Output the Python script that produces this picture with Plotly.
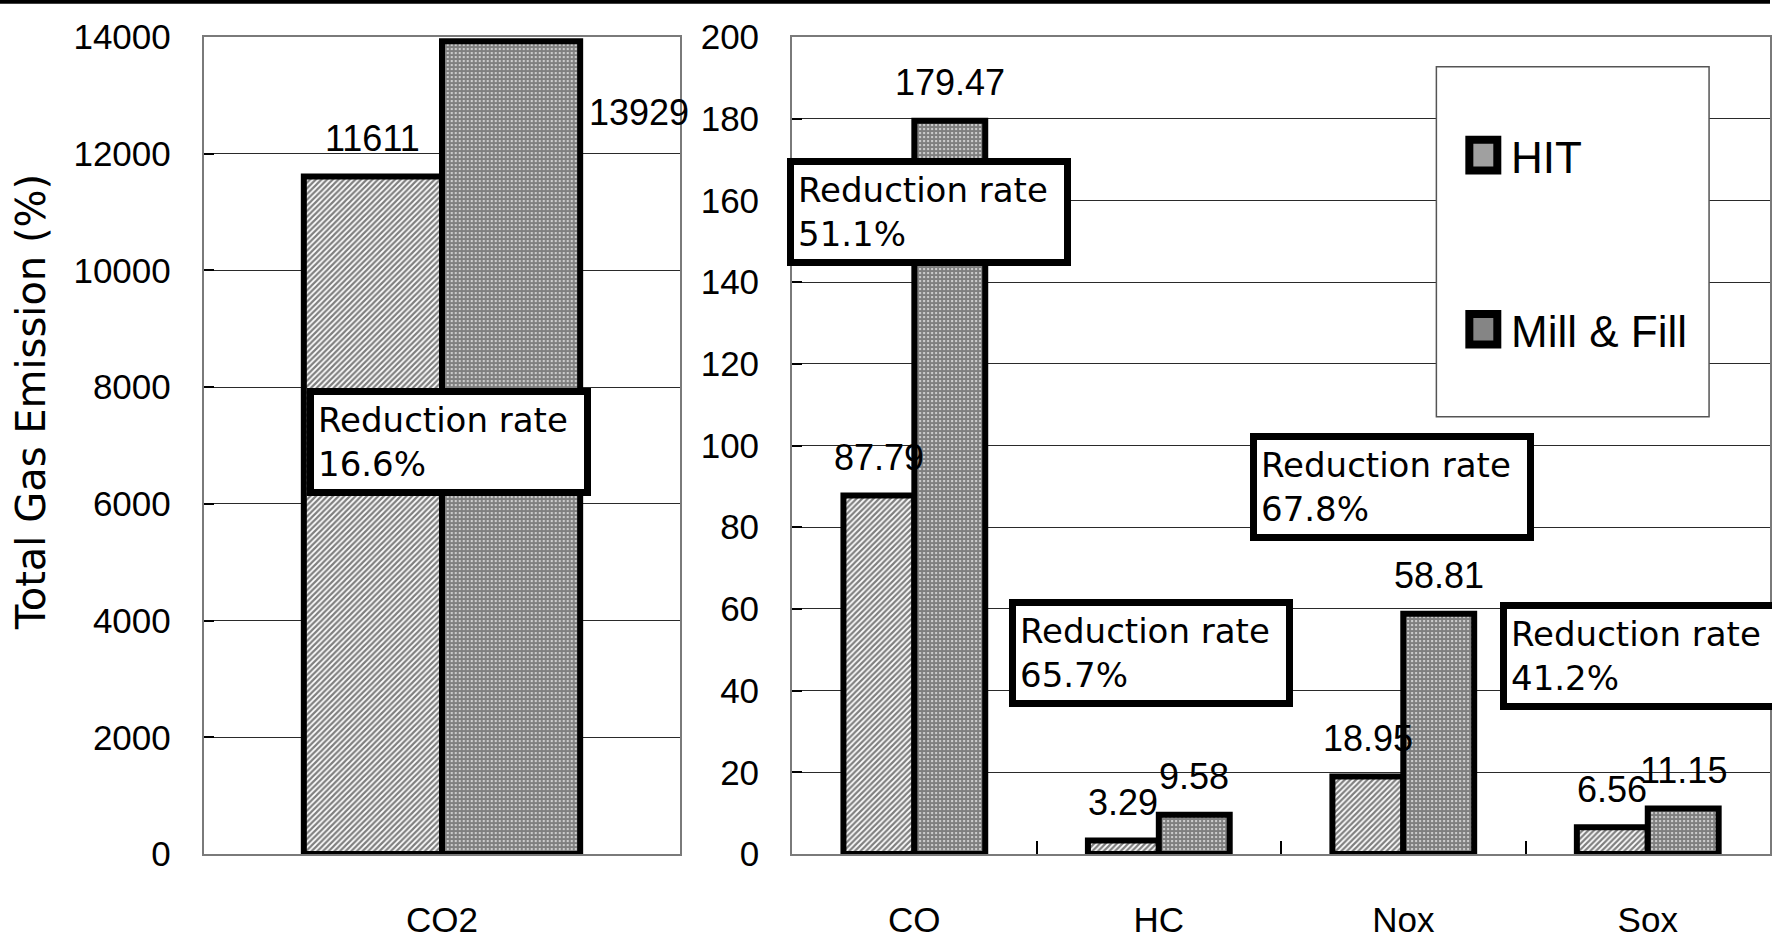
import plotly.graph_objects as go

# ---- data -------------------------------------------------------------
series_names = ["HIT", "Mill & Fill"]
co2_category = ["CO2"]
gas_categories = ["CO", "HC", "Nox", "Sox"]
hit_co2 = [11611]
mill_co2 = [13929]
hit_gas = [87.79, 3.29, 18.95, 6.56]
mill_gas = [179.47, 9.58, 58.81, 11.15]
co2_ticks = [0, 2000, 4000, 6000, 8000, 10000, 12000, 14000]
gas_ticks = [0, 20, 40, 60, 80, 100, 120, 140, 160, 180, 200]
y_title = "Total Gas Emission (%)"

# ---- page geometry ----------------------------------------------------
W, H = 1772, 939
M_TOP, M_BOT = 37, 76
PLOT_H = H - M_TOP - M_BOT


def px_x(x):
    return x / W


def px_y(y):
    return (H - M_BOT - y) / PLOT_H


TICK_FONT = dict(family="Liberation Sans, Arial, sans-serif", size=35, color="black")
LABEL_FONT = dict(family="Liberation Sans, Arial, sans-serif", size=36, color="black")
BOX_FONT = dict(family="DejaVu Sans, Verdana, sans-serif", size=34, color="black")
LEGEND_FONT = dict(family="Liberation Sans, Arial, sans-serif", size=44, color="black")

BAR_GAP = 0.42
HALF_BAR = (1 - BAR_GAP) / 4  # offset of each bar centre from its category centre

hit_marker = dict(
    color="white",
    pattern=dict(shape="/", fgcolor="black", bgcolor="white", size=4, solidity=0.55),
    line=dict(color="black", width=6),
)
mill_marker = dict(
    color="white",
    pattern=dict(shape=".", fgcolor="black", bgcolor="white", size=4, solidity=0.8),
    line=dict(color="black", width=6),
)

fig = go.Figure()
fig.add_bar(x=co2_category, y=hit_co2, name=series_names[0], marker=hit_marker,
            xaxis="x", yaxis="y", showlegend=False)
fig.add_bar(x=co2_category, y=mill_co2, name=series_names[1], marker=mill_marker,
            xaxis="x", yaxis="y", showlegend=False)
fig.add_bar(x=gas_categories, y=hit_gas, name=series_names[0], marker=hit_marker,
            xaxis="x2", yaxis="y2", showlegend=False)
fig.add_bar(x=gas_categories, y=mill_gas, name=series_names[1], marker=mill_marker,
            xaxis="x2", yaxis="y2", showlegend=False)

# ---- value labels above the bars ---------------------------------------
def value_label(xref, yref, pos, value, text, dx=0, dy=38):
    fig.add_annotation(x=pos, y=value, xref=xref, yref=yref, text=text,
                       showarrow=False, xshift=dx, yshift=dy, font=LABEL_FONT,
                       xanchor="center", yanchor="middle")


for i, (h, m) in enumerate(zip(hit_co2, mill_co2)):
    value_label("x", "y", i - HALF_BAR, h, f"{h:.0f}")
    value_label("x", "y", i + HALF_BAR, m, f"{m:.0f}", dx=128, dy=-71)

for i, (h, m) in enumerate(zip(hit_gas, mill_gas)):
    value_label("x2", "y2", i - HALF_BAR, h, f"{h:.2f}")
    value_label("x2", "y2", i + HALF_BAR, m, f"{m:.2f}")

# ---- reduction-rate call-outs -------------------------------------------
all_hit = hit_co2 + hit_gas
all_mill = mill_co2 + mill_gas
box_centres = [(450, 446), (930, 214), (1152, 660), (1394, 492), (1644, 663)]
for (cx, cy), h, m in zip(box_centres, all_hit, all_mill):
    rate = (m - h) / m * 100
    fig.add_annotation(
        x=px_x(cx), y=px_y(cy), xref="paper", yref="paper",
        text=f"Reduction rate<br>{rate:.1f}%", showarrow=False, align="left",
        font=BOX_FONT, bgcolor="white", bordercolor="black", borderwidth=7,
        borderpad=4, width=262, height=86, xanchor="center", yanchor="middle",
    )

# ---- legend panel -----------------------------------------------------
fig.add_shape(type="rect", xref="paper", yref="paper",
              x0=px_x(1438), x1=px_x(1711), y0=px_y(421), y1=px_y(67),
              line=dict(color="#555555", width=1.5), fillcolor="white", layer="above")
legend_rows = [(137, 176, "#a0a0a0"), (313, 352, "#858585")]
for name, (top, bottom, fill) in zip(series_names, legend_rows):
    fig.add_shape(type="rect", xref="paper", yref="paper",
                  x0=px_x(1471), x1=px_x(1499), y0=px_y(bottom - 4), y1=px_y(top + 4),
                  line=dict(color="black", width=8), fillcolor=fill, layer="above")
    fig.add_annotation(x=px_x(1511), y=px_y((top + bottom) / 2 + 2), xref="paper", yref="paper",
                       text=name, showarrow=False, xanchor="left", yanchor="middle",
                       font=LEGEND_FONT)

# ---- axis title and top rule ------------------------------------------
fig.add_annotation(x=px_x(31), y=px_y(406), xref="paper", yref="paper", text=y_title,
                   textangle=-90, showarrow=False, xanchor="center", yanchor="middle",
                   font=dict(family="DejaVu Sans, Verdana, sans-serif", size=40, color="black"))
fig.add_shape(type="rect", xref="paper", yref="paper", x0=0, x1=1,
              y0=px_y(3.5), y1=px_y(-3), line=dict(width=0), fillcolor="black")

frame = dict(showline=True, mirror=True, linecolor="#7a7a7a", linewidth=2)
x_common = dict(type="category", ticks="inside", tickson="boundaries", ticklen=13,
                tickcolor="black", tickwidth=1.5, showgrid=False, tickfont=TICK_FONT,
                ticklabelstandoff=34, **frame)
y_common = dict(ticks="inside", ticklen=10, tickcolor="black", tickwidth=1.5,
                showgrid=True, gridcolor="#2a2a2a", gridwidth=1, zeroline=False,
                tickfont=TICK_FONT, ticklabelstandoff=24, **frame)

fig.update_layout(
    width=W, height=H,
    margin=dict(l=0, r=0, t=M_TOP, b=M_BOT),
    paper_bgcolor="white", plot_bgcolor="white",
    barmode="group", bargap=BAR_GAP, bargroupgap=0,
    showlegend=False,
    xaxis=dict(domain=[px_x(204), px_x(681)], anchor="y",
               range=[-0.5, len(co2_category) - 0.5], **x_common),
    yaxis=dict(domain=[0, 1], anchor="x", range=[0, 14000], tickvals=co2_ticks,
               ticktext=[str(t) for t in co2_ticks], **y_common),
    xaxis2=dict(domain=[px_x(793), 1.0], anchor="y2",
                range=[-0.5, len(gas_categories) - 0.5], **x_common),
    yaxis2=dict(domain=[0, 1], anchor="x2", range=[0, 200], tickvals=gas_ticks,
                ticktext=[str(t) for t in gas_ticks], **y_common),
)

fig.write_html("out.html")
